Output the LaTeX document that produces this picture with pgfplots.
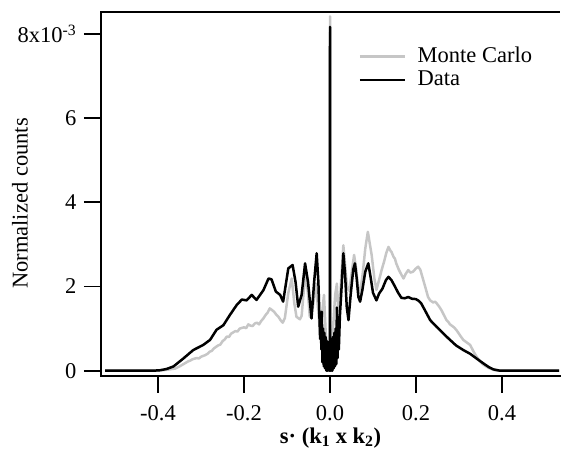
\documentclass[border=0pt]{standalone}
\usepackage{pgfplots}
\pgfplotsset{compat=1.18}
\usepackage{fontspec}
\setmainfont{Liberation Serif}

\definecolor{mcgray}{RGB}{198,198,198}

% y values in units of 1e-3
\pgfplotstableread{
x y
-0.523 0
-0.40 0
-0.38 0.02
-0.36 0.05
-0.35 0.10
-0.34 0.16
-0.33 0.22
-0.325 0.24
-0.32 0.27
-0.31 0.30
-0.305 0.29
-0.30 0.33
-0.29 0.37
-0.285 0.40
-0.28 0.45
-0.275 0.47
-0.27 0.53
-0.26 0.60
-0.255 0.62
-0.25 0.70
-0.245 0.74
-0.24 0.81
-0.235 0.80
-0.23 0.88
-0.22 0.94
-0.215 0.93
-0.21 1.00
-0.20 1.03
-0.195 1.01
-0.19 1.10
-0.185 1.07
-0.18 1.06
-0.175 1.12
-0.17 1.14
-0.165 1.10
-0.16 1.18
-0.155 1.24
-0.15 1.32
-0.145 1.38
-0.14 1.48
-0.135 1.44
-0.13 1.40
-0.125 1.33
-0.12 1.28
-0.115 1.20
-0.11 1.14
-0.105 1.25
-0.097 1.85
-0.089 2.19
-0.083 1.60
-0.078 1.28
-0.070 1.22
-0.066 1.30
-0.061 1.90
-0.056 2.35
-0.051 1.80
-0.047 1.28
-0.040 1.50
-0.033 2.07
-0.028 1.50
-0.023 0.90
-0.019 1.30
-0.014 1.80
-0.010 0.90
-0.006 0.50
-0.002 0.30
-0.0005 0
0 8.42
0.0005 0
0.003 0.40
0.007 1.00
0.012 1.80
0.016 2.07
0.020 1.20
0.025 2.00
0.031 2.98
0.036 2.40
0.040 1.95
0.045 1.90
0.050 2.30
0.056 2.75
0.061 2.40
0.066 1.90
0.070 1.85
0.076 2.30
0.082 2.90
0.088 3.30
0.092 3.05
0.097 2.74
0.103 2.20
0.108 1.92
0.114 2.15
0.120 2.39
0.126 2.60
0.131 2.80
0.136 2.94
0.140 2.86
0.143 2.82
0.148 2.70
0.151 2.66
0.154 2.55
0.160 2.40
0.166 2.28
0.171 2.19
0.176 2.30
0.182 2.39
0.187 2.33
0.193 2.35
0.199 2.42
0.205 2.47
0.210 2.40
0.217 2.15
0.224 1.90
0.228 1.75
0.233 1.67
0.240 1.62
0.244 1.64
0.248 1.60
0.254 1.52
0.259 1.44
0.265 1.32
0.271 1.20
0.275 1.16
0.279 1.10
0.287 1.04
0.291 1.00
0.295 0.95
0.303 0.83
0.310 0.73
0.314 0.70
0.318 0.67
0.326 0.61
0.330 0.53
0.334 0.45
0.341 0.33
0.349 0.22
0.357 0.14
0.368 0.07
0.380 0.02
0.390 0
0.533 0
}\montecarlo

\pgfplotstableread{
x y
-0.523 0
-0.41 0
-0.395 0.01
-0.38 0.04
-0.364 0.10
-0.341 0.29
-0.318 0.49
-0.295 0.61
-0.279 0.73
-0.264 0.97
-0.248 1.08
-0.233 1.32
-0.217 1.56
-0.205 1.69
-0.194 1.67
-0.182 1.80
-0.171 1.68
-0.155 1.91
-0.143 2.19
-0.136 2.17
-0.126 1.88
-0.116 1.80
-0.109 1.64
-0.097 2.43
-0.087 2.51
-0.080 2.10
-0.074 1.52
-0.066 1.80
-0.058 2.55
-0.051 2.10
-0.043 1.24
-0.037 2.10
-0.031 2.79
-0.027 2.10
-0.023 0.75
-0.0215 1.10
-0.020 0.50
-0.019 1.40
-0.0175 0.20
-0.016 1.00
-0.0145 0.10
-0.013 0.90
-0.0115 0.05
-0.010 0.80
-0.0085 0
-0.007 0.70
-0.0055 0
-0.004 0.60
-0.0025 0
-0.001 0.30
-0.0004 0
0 8.17
0.0004 0
0.001 0.30
0.0025 0
0.004 0.70
0.0055 0
0.007 0.80
0.0085 0.05
0.010 0.90
0.0115 0.10
0.013 1.00
0.0145 0.15
0.016 1.50
0.0175 0.30
0.019 1.20
0.0205 0.50
0.023 1.30
0.027 2.00
0.031 2.79
0.035 2.30
0.039 1.50
0.043 1.20
0.048 1.80
0.054 2.40
0.058 2.55
0.062 2.20
0.066 1.75
0.070 1.64
0.075 1.90
0.082 2.35
0.089 2.55
0.094 2.25
0.100 1.85
0.108 1.67
0.114 1.83
0.122 1.95
0.130 2.15
0.136 2.23
0.143 2.15
0.151 2.00
0.158 1.86
0.166 1.73
0.174 1.72
0.182 1.75
0.190 1.71
0.200 1.70
0.206 1.66
0.212 1.60
0.220 1.45
0.233 1.20
0.248 1.04
0.262 0.90
0.275 0.77
0.293 0.60
0.310 0.49
0.326 0.40
0.342 0.28
0.357 0.17
0.370 0.08
0.380 0.03
0.395 0
0.533 0
}\datatab

\begin{document}
\fontsize{22.5}{27}\selectfont
\begin{tikzpicture}
\useasboundingbox (-101pt,-76.3pt) rectangle (460pt,375.7pt);
\begin{axis}[
    name             = ax,
    at               = {(0pt,0pt)},
    anchor           = south west,
    scale only axis,
    width            = 459pt,
    height           = 364pt,
    xmin = -0.5326, xmax = 0.5349,
    ymin = -0.12,   ymax = 8.53,
    axis lines*      = left,
    axis line style  = {line width=1.7pt, line cap=rect},
    tick align       = outside,
    major tick length = 17pt,
    tick style       = {line width=1.7pt, black},
    xtick            = {-0.4,-0.2,0,0.2,0.4},
    xticklabels      = {-0.4,-0.2,0.0,0.2,0.4},
    xticklabel style = {yshift=-5pt},
    ytick            = {0,2,4,6,8},
    yticklabels      = {0,2,4,6,8x10\textsuperscript{-3}},
    xlabel           = {\bfseries s· (k\textsubscript{1} x k\textsubscript{2})},
    xlabel style     = {at={(axis description cs:0.5,-0.185)}, anchor=base},
    ylabel           = {Normalized counts},
    ylabel style     = {at={(axis description cs:-0.1765,0.473)}, anchor=center},
    legend style     = {draw=none, fill=none, at={(axis description cs:0.5545,0.915)},
                        anchor=north west, row sep=0.5pt,
                        nodes={inner sep=1.5pt, text height=16pt, text depth=4pt}},
    legend cell align = left,
    legend image code/.code = {\draw[#1] (0pt,0pt) -- (45pt,0pt); \path (55pt,0pt);},
]
\addplot[mcgray, line width=2.5pt, line join=round] table[x=x, y=y] {\montecarlo};
\addlegendentry{Monte Carlo}
\addplot[black, line width=2.5pt, line join=round] table[x=x, y=y] {\datatab};
\addlegendentry{Data}
\end{axis}
\draw[line width=1.7pt] (ax.north west) -- (ax.north east);
\end{tikzpicture}
\end{document}
